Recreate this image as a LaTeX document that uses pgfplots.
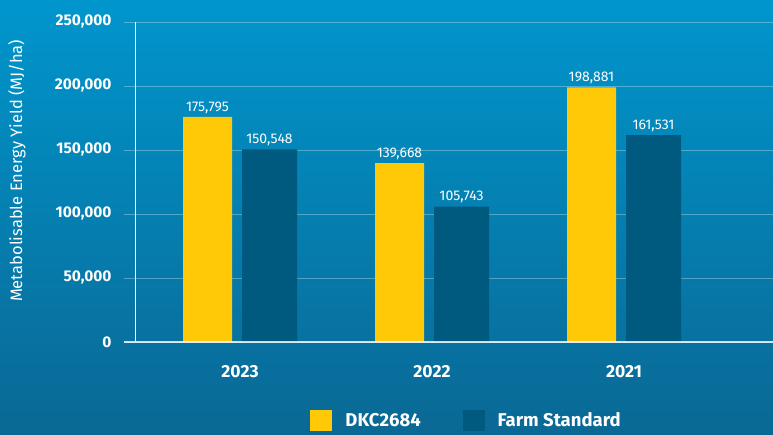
\documentclass[border=0pt]{standalone}
\usepackage{fontspec}
\setmainfont{Fira Sans}
\usepackage{pgfplots}
\pgfplotsset{compat=1.18}
\definecolor{bgtop}{RGB}{0,150,205}
\definecolor{bgbot}{RGB}{10,104,148}
\definecolor{dkyellow}{RGB}{255,201,8}
\definecolor{farmblue}{RGB}{0,90,128}

\begin{document}
\begin{tikzpicture}[x=1pt,y=1pt]
\shade[top color=bgtop, bottom color=bgbot] (0,0) rectangle (773,434);
\begin{axis}[
    at={(135pt,92pt)}, anchor=south west,
    scale only axis, width=638pt, height=320pt,
    xmin=-0.547, xmax=2.776, ymin=0, ymax=250000,
    axis y line*=left, y axis line style={white, line width=1pt, -},
    axis x line*=bottom, x axis line style={draw=none},
    xtick={0,1,2}, xticklabels={2023,2022,2021},
    major x tick style={draw=none},
    ytick={0,50000,100000,150000,200000,250000},
    yticklabels={0,{50,000},{100,000},{150,000},{200,000},{250,000}},
    ymajorgrids, major grid style={white, opacity=0.3, line width=0.8pt},
    major y tick style={white, opacity=0.3, line width=0.8pt},
    tick align=outside, major tick length=11pt,
    scaled y ticks=false,
    yticklabel style={font=\bfseries\fontsize{15.5}{15.5}\selectfont, text=white, xshift=-9pt},
    xticklabel style={font=\bfseries\fontsize{17.5}{17.5}\selectfont, text=white, yshift=-9pt},
    ybar,
    point meta=explicit symbolic,
    nodes near coords,
    every node near coord/.append style={font=\fontsize{14}{14}\selectfont, text=white, yshift=0pt},
    legend columns=2,
    legend style={at={(0.27,-0.206)}, anchor=north west, draw=none, fill=none,
        text=white, font=\bfseries\fontsize{18.5}{18.5}\selectfont,
        /tikz/every odd column/.append style={column sep=11pt},
        /tikz/every even column/.append style={column sep=40pt}},
    legend image code/.code={\fill[#1] (0pt,-10.5pt) rectangle (22pt,10.5pt);},
]
\addplot[fill=dkyellow, draw=none, bar width=49pt, bar shift=-32.5pt] coordinates {
    (0,175795) [{175,795}]
    (1,139668) [{139,668}]
    (2,198881) [{198,881}]
};
\addlegendentry{DKC2684}
\addplot[fill=farmblue, draw=none, bar width=55pt, bar shift=29.5pt] coordinates {
    (0,150548) [{150,548}]
    (1,105743) [{105,743}]
    (2,161531) [{161,531}]
};
\addlegendentry{Farm Standard}
\end{axis}
\draw[white, opacity=0.8, line width=1.2pt] (124,92) -- (773,92);
\node[rotate=90, text=white, font=\fontsize{16.5}{16.5}\selectfont] at (17,263) {Metabolisable Energy Yield (MJ/ha)};
\pgfresetboundingbox
\useasboundingbox (0,0) rectangle (773,434);
\end{tikzpicture}
\end{document}
